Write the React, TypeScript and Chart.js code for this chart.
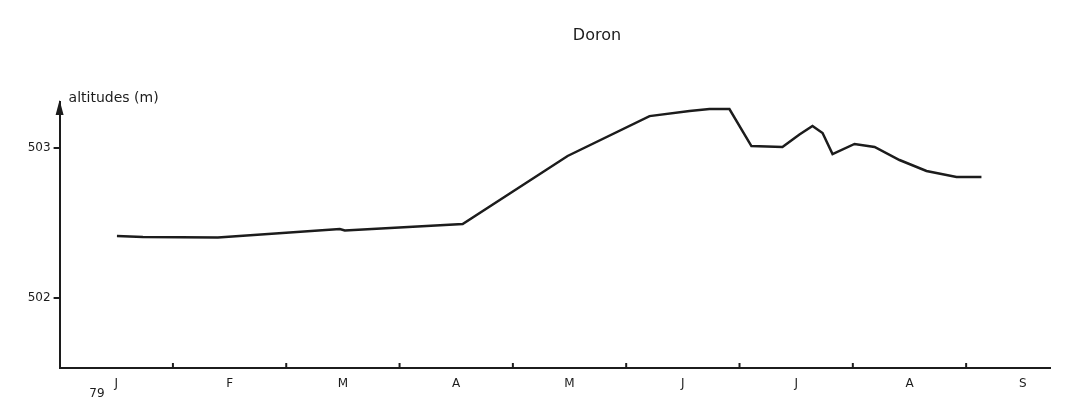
import React, { useEffect, useRef } from "react";
import { Chart, registerables } from "chart.js";

Chart.register(...registerables);

const title = "Doron";
const yAxisTitle = "altitudes (m)";
const yearLabel = "79";
const monthLabels = ["J", "F", "M", "A", "M", "J", "J", "A", "S"];
const yTickValues = [502, 503];
// position along the time axis, in months from 1 Jan 1979
const monthPositions = [0.506, 0.735, 1.397, 2.473, 2.517, 3.557, 4.483, 5.206, 5.559, 5.735, 5.911, 6.105, 6.379, 6.529, 6.644, 6.733, 6.821, 7.015, 7.192, 7.412, 7.65, 7.915, 8.135];
const altitudes = [502.413, 502.407, 502.403, 502.46, 502.45, 502.493, 502.947, 503.213, 503.247, 503.26, 503.26, 503.013, 503.007, 503.09, 503.147, 503.1, 502.96, 503.027, 503.007, 502.92, 502.847, 502.807, 502.807];

const FONT = "'DejaVu Sans', sans-serif";
const INK = "#1c1c1c";

export default function App() {
  const ref = useRef<HTMLCanvasElement | null>(null);

  useEffect(() => {
    if (!ref.current) return;
    const decor = {
      id: "decor",
      afterDraw(chart: any) {
        const ctx = chart.ctx;
        const xs = chart.scales.x;
        const area = chart.chartArea;
        ctx.save();
        ctx.fillStyle = INK;
        ctx.strokeStyle = INK;
        // title
        ctx.font = `16px ${FONT}`;
        ctx.textAlign = "center";
        ctx.textBaseline = "middle";
        ctx.fillText(title, 589, 28);
        // y-axis title
        ctx.font = `14px ${FONT}`;
        ctx.textAlign = "left";
        ctx.fillText(yAxisTitle, area.left + 9, 90);
        // year label
        ctx.font = `12px ${FONT}`;
        ctx.textAlign = "center";
        ctx.fillText(yearLabel, 89, 386);
        // arrowhead
        ctx.beginPath();
        ctx.moveTo(area.left, area.top - 2);
        ctx.lineTo(area.left - 4, area.top + 13);
        ctx.lineTo(area.left + 4, area.top + 13);
        ctx.closePath();
        ctx.fill();
        // month boundary ticks (upward)
        ctx.lineWidth = 2;
        for (let m = 1; m <= 8; m++) {
          const px = xs.getPixelForValue(m);
          ctx.beginPath();
          ctx.moveTo(px, area.bottom);
          ctx.lineTo(px, area.bottom - 5);
          ctx.stroke();
        }
        ctx.restore();
      },
    };

    const chart = new Chart(ref.current, {
      type: "line",
      data: {
        datasets: [
          {
            data: monthPositions.map((m, i) => ({ x: m, y: altitudes[i] })),
            borderColor: INK,
            borderWidth: 2.5,
            pointRadius: 0,
            tension: 0,
            fill: false,
          },
        ],
      },
      options: {
        animation: false,
        responsive: false,
        layout: { padding: { top: 94, right: 8, left: 0, bottom: 0 } },
        plugins: { legend: { display: false }, tooltip: { enabled: false }, title: { display: false } },
        scales: {
          x: {
            type: "linear",
            min: 0,
            max: 8.74,
            afterBuildTicks: (s: any) => {
              s.ticks = monthLabels.map((_, i) => ({ value: i + 0.5 }));
            },
            afterFit: (s: any) => {
              s.height = 31;
            },
            ticks: {
              autoSkip: false,
              maxRotation: 0,
              padding: 9,
              color: INK,
              font: { family: FONT, size: 12 },
              callback: (v: any) => monthLabels[Math.round(Number(v) - 0.5)] ?? "",
            },
            grid: { drawOnChartArea: false, drawTicks: false },
            border: { display: true, color: INK, width: 2 },
          },
          y: {
            type: "linear",
            min: 501.533,
            max: 503.307,
            afterBuildTicks: (s: any) => {
              s.ticks = yTickValues.map((v) => ({ value: v }));
            },
            afterFit: (s: any) => {
              s.width = 51.6;
            },
            ticks: {
              padding: 3,
              color: INK,
              font: { family: FONT, size: 12 },
              callback: (v: any) => String(v),
            },
            grid: { drawOnChartArea: false, drawTicks: true, tickLength: 6, color: INK, lineWidth: 2 },
            border: { display: true, color: INK, width: 2 },
          },
        },
      },
      plugins: [decor],
    } as any);
    return () => chart.destroy();
  }, []);

  return <canvas ref={ref} width={1050} height={391} style={{ display: "block" }} />;
}
